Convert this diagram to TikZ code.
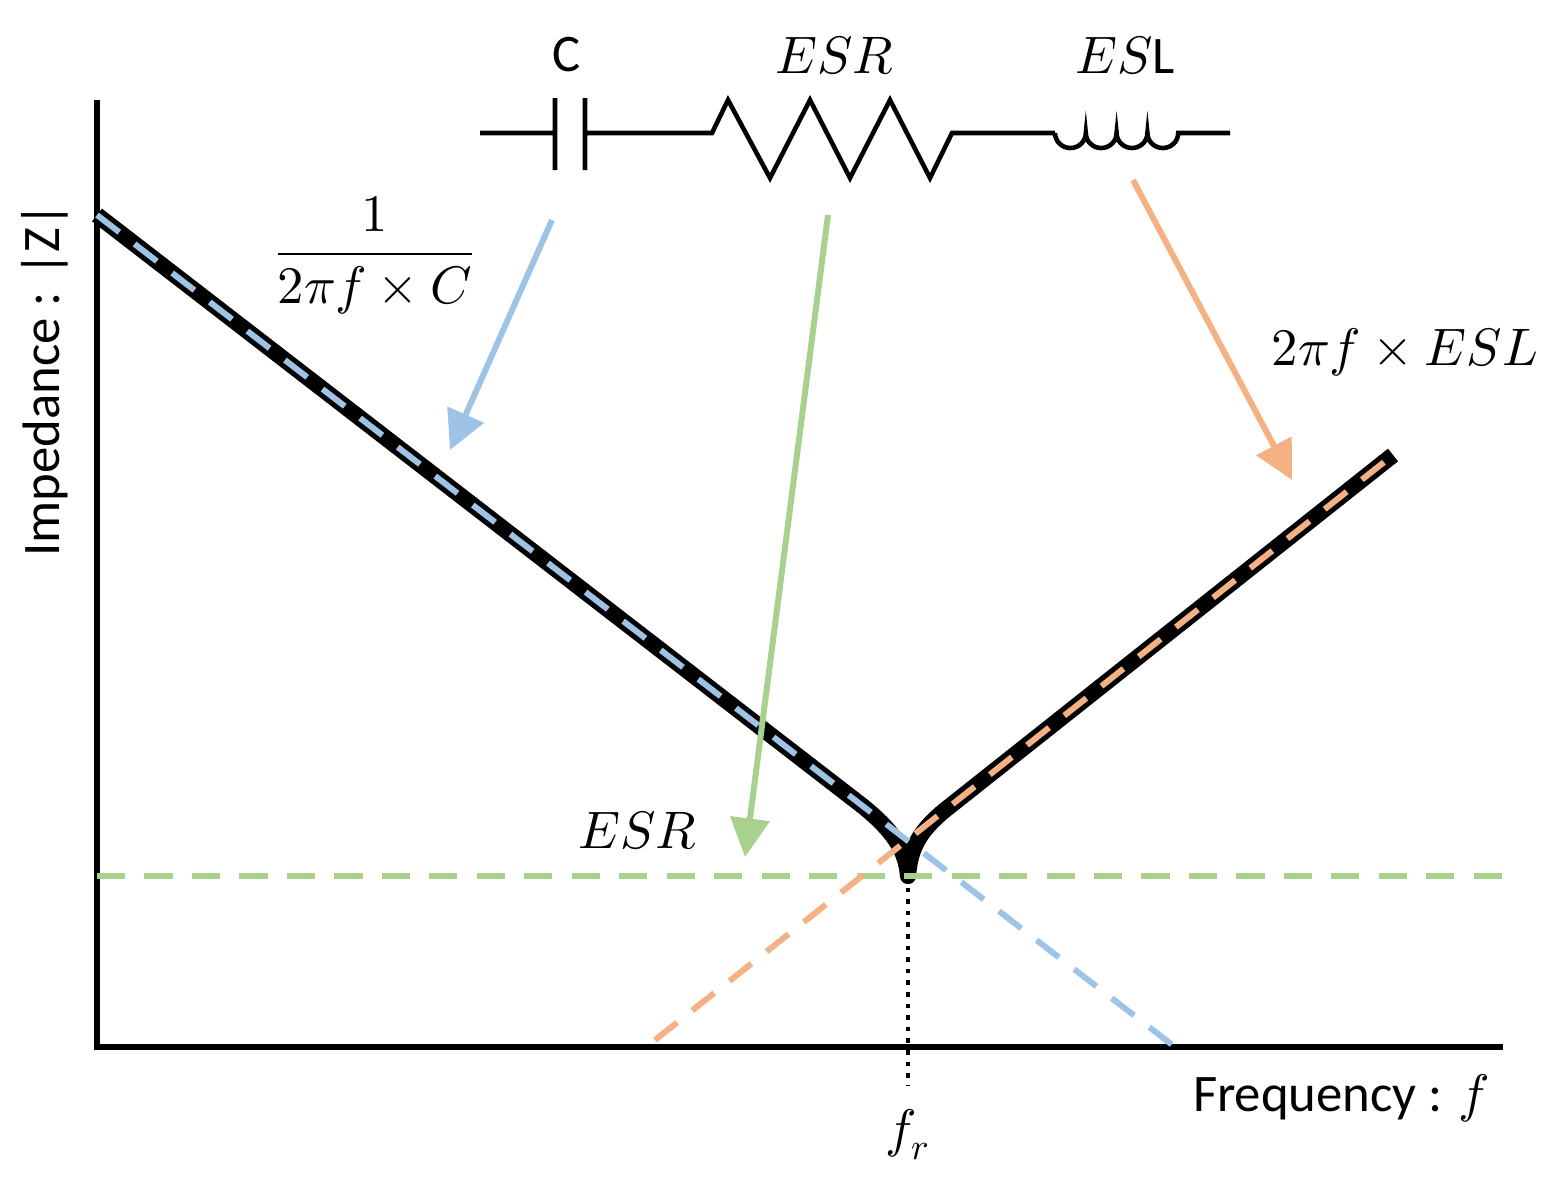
\documentclass[tikz,border=0pt]{standalone}
\usepackage{fontspec}
\setmainfont{Carlito}
\usepackage{unicode-math}
\setmathfont{Latin Modern Math}
\usetikzlibrary{arrows.meta}
\definecolor{cblue}{RGB}{157,195,230}
\definecolor{cgreen}{RGB}{169,209,142}
\definecolor{corange}{RGB}{244,177,131}
\begin{document}
\begin{tikzpicture}[x=0.01cm,y=-0.01cm,
  axis/.style={line width=1.8pt},
  dsh/.style={line width=1.7pt,dash pattern=on 8pt off 5.5pt},
  arr/.style={line width=1.7pt,-{Triangle[length=11pt,width=11pt]}},
  wire/.style={line width=1.3pt},
  lab/.style={inner sep=0pt,font=\fontsize{15}{18}\selectfont}]
\useasboundingbox (0,0) rectangle (1560,1181);
% axes
\coordinate (ytop) at (97,100);
\coordinate (o) at (97,1047);
\coordinate (xend) at (1503,1047);
\draw[axis] (ytop) -- (o) -- (xend);
% curves
\coordinate (b0) at (97,215); \coordinate (b1) at (1175,1047);
\coordinate (o0) at (655,1040); \coordinate (o1) at (1393,455);
\coordinate (g0) at (97,876); \coordinate (g1) at (1503,876);
\coordinate (bm) at (860,804); \coordinate (res) at (908,876); \coordinate (om) at (945,810);
\coordinate (fb) at (908,1085);
\draw[line width=4.6pt,line join=round] (b0) -- (bm) .. controls (893,830) and (906,850) .. (res)
   .. controls (910,850) and (918,832) .. (om) -- (o1);
\draw[line width=1.3pt,dotted] (res) -- (fb);
\draw[dsh,cgreen] (g0) -- (g1);
\draw[dsh,cblue] (b0) -- (b1);
\draw[dsh,corange] (o0) -- (o1);
% circuit
\coordinate (w0) at (480,133); \coordinate (c1) at (555,133); \coordinate (c2) at (585,133);
\coordinate (r0) at (712,133); \coordinate (r1) at (952,133);
\coordinate (l0) at (1055,133); \coordinate (l1) at (1178,133); \coordinate (w1) at (1230,133);
\draw[wire] (w0) -- (c1) (555,98) -- (555,170) (585,98) -- (585,170) (c2) -- (r0)
  -- (728,100) -- (770,178) -- (810,100) -- (850,178) -- (890,100) -- (930,178) -- (r1) -- (l0);
\draw[wire] (l0) arc[start angle=180,end angle=0,x radius=15.4,y radius=15]
  arc[start angle=180,end angle=0,x radius=15.4,y radius=15]
  arc[start angle=180,end angle=0,x radius=15.4,y radius=15]
  arc[start angle=180,end angle=0,x radius=15.4,y radius=15] -- (w1);
\node[lab] (lc) at (567,55) {C};
\node[lab] (lesr) at (835,55) {$ESR$};
\node[lab] (lesl) at (1125,55) {$ES$L};
% arrows
\coordinate (a1s) at (552,220); \coordinate (a1e) at (450,450);
\coordinate (a2s) at (828,215); \coordinate (a2e) at (745,857);
\coordinate (a3s) at (1133,180); \coordinate (a3e) at (1292,480);
\draw[arr,cblue] (a1s) -- (a1e);
\draw[arr,cgreen] (a2s) -- (a2e);
\draw[arr,corange] (a3s) -- (a3e);
% labels
\node[lab] (fc) at (375,255) {$\dfrac{1}{2\pi f\times C}$};
\node[lab] (fl) at (1405,352) {$2\pi f\times ESL$};
\node[lab] (er) at (638,830) {$ESR$};
\node[lab] (fr) at (908,1135) {$f_r$};
\node[lab,anchor=east] (fq) at (1490,1098) {Frequency : $f$};
\node[lab,rotate=90] (iz) at (45,380) {Impedance : |Z|};
\end{tikzpicture}
\end{document}
